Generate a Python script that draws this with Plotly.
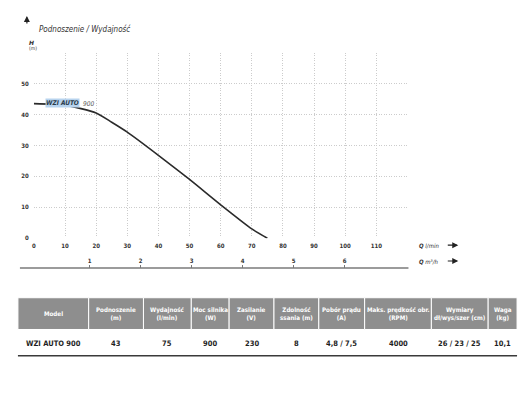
import plotly.graph_objects as go

# ---- data ----
flow_lmin = [0, 10, 20, 25, 30, 40, 50, 60, 70, 75]
head_m = [43.5, 43.0, 40.5, 37.5, 34.3, 26.8, 19.0, 10.8, 3.0, 0.0]
x_ticks = [0, 10, 20, 30, 40, 50, 60, 70, 80, 90, 100, 110, 120]
x_ticktext = ["0", "10", "20", "30", "40", "50", "60", "70", "80", "90", "100", "110", ""]
y_ticks = [0, 10, 20, 30, 40, 50, 60]
y_ticktext = ["0", "10", "20", "30", "40", "50", ""]
m3h_ticks = [1, 2, 3, 4, 5, 6]

table_headers = ["Model", "Podnoszenie<br>(m)", "Wydajność<br>(l/min)", "Moc silnika<br>(W)",
                 "Zasilanie<br>(V)", "Zdolność<br>ssania (m)", "Pobór prądu<br>(A)",
                 "Maks. prędkość obr.<br>(RPM)", "Wymiary<br>dł/wys/szer (cm)", "Waga<br>(kg)"]
table_values = ["WZI AUTO 900", "43", "75", "900", "230", "8", "4,8 / 7,5", "4000",
                "26 / 23 / 25", "10,1"]
col_widths = [71, 55, 48, 38, 45, 45, 46, 67, 57, 29]

W, H = 530, 398
def px(x): return x / W
def py(y): return 1 - y / H

NARROW = "Liberation Sans Narrow, DejaVu Sans Condensed, sans-serif"
COND = "DejaVu Sans Condensed, sans-serif"

fig = go.Figure()
fig.add_trace(go.Scatter(x=flow_lmin, y=head_m, mode="lines",
                         line=dict(color="#2b2b2b", width=1.6, shape="spline", smoothing=0.6),
                         hoverinfo="skip", showlegend=False))
fig.add_trace(go.Scatter(x=[v / 16.667 for v in flow_lmin], y=head_m, xaxis="x2", mode="lines",
                         line=dict(width=0, color="rgba(0,0,0,0)"), hoverinfo="skip", showlegend=False))

tickfont = dict(family=COND, size=6, color="#333", weight="bold")
grid = dict(showgrid=True, gridcolor="#cccccc", griddash="1px,1.5px", gridwidth=1, zeroline=False,
            showline=False, ticks="", tickfont=tickfont, fixedrange=True)

shapes = [
    dict(type="line", xref="paper", yref="paper", x0=px(16), x1=px(517),
         y0=py(358.5), y1=py(358.5), line=dict(color="#3a3a3a", width=1.5)),
    dict(type="line", xref="paper", yref="paper", x0=px(18), x1=px(408),
         y0=py(270), y1=py(270), line=dict(color="#7a7a7a", width=1.5)),
]
anns = []

# ---- table drawn from the lists ----
TBL_X0, HDR_TOP, HDR_BOT, ROW_Y = 16, 300, 332, 346
x0 = TBL_X0
for head, val, w in zip(table_headers, table_values, col_widths):
    shapes.append(dict(type="rect", xref="paper", yref="paper", x0=px(x0), x1=px(x0 + w),
                       y0=py(HDR_BOT), y1=py(HDR_TOP), fillcolor="#8e8e8e",
                       line=dict(color="white", width=1), layer="below"))
    anns.append(dict(x=px(x0 + w / 2), y=py((HDR_TOP + HDR_BOT) / 2), text=f"<b>{head}</b>",
                     xanchor="center", yanchor="middle", align="center",
                     font=dict(family=NARROW, size=6.2, color="white")))
    anns.append(dict(x=px(x0 + w / 2), y=py(ROW_Y), text=f"<b>{val}</b>",
                     xanchor="center", yanchor="middle",
                     font=dict(family=COND, size=7.5, color="#1e1e1e")))
    x0 += w

fig.update_layout(
    width=W, height=H, margin=dict(l=0, r=0, t=0, b=0),
    paper_bgcolor="white", plot_bgcolor="white",
    xaxis=dict(domain=[px(32), px(407)], range=[0, 120], tickvals=x_ticks, ticktext=x_ticktext,
               ticklabelstandoff=3, **grid),
    yaxis=dict(domain=[py(240), py(53)], range=[0, 60], tickvals=y_ticks, ticktext=y_ticktext,
               ticklabelstandoff=4, **grid),
    xaxis2=dict(range=[-0.094, 7.23], overlaying="x", anchor="free",
                position=py(270), side="top", tickvals=m3h_ticks, ticks="outside", ticklen=3,
                tickcolor="#777", showline=False,
                showgrid=False, zeroline=False, tickfont=tickfont, fixedrange=True),
    shapes=shapes,
)

anns += [
    dict(x=px(35), y=py(22), text="<i>Podnoszenie / Wydajność</i>", xanchor="left",
         font=dict(family=COND, size=8, color="#333")),
    dict(x=px(25), y=py(16), ax=0, ay=9, text="", showarrow=True, arrowhead=2,
         arrowsize=1, arrowwidth=1.2, arrowcolor="#222"),
    dict(x=px(25), y=py(37), text="<b><i>H</i></b>", font=dict(family="DejaVu Sans", size=6, color="#333")),
    dict(x=px(25), y=py(43.5), text="(m)", font=dict(family=COND, size=5, color="#333")),
    dict(x=px(78), y=py(99), text="<b><i>WZI AUTO</i></b>", xanchor="right", bgcolor="#b7d3ee",
         borderpad=0, font=dict(family=NARROW, size=6.5, color="#2a3a4a")),
    dict(x=px(79), y=py(99), text="<i>900</i>", xanchor="left",
         font=dict(family=NARROW, size=6.5, color="#555")),
    dict(x=px(417), y=py(247), text="<b><i>Q</i></b> <i>l/min</i>", xanchor="left",
         font=dict(family=COND, size=6, color="#333")),
    dict(x=px(417), y=py(263), text="<b><i>Q</i></b> <i>m³/h</i>", xanchor="left",
         font=dict(family=COND, size=6, color="#333")),
    dict(x=px(458), y=py(247), ax=-12, ay=0, text="", showarrow=True, arrowhead=2,
         arrowsize=1, arrowwidth=1.2, arrowcolor="#222"),
    dict(x=px(458), y=py(263), ax=-12, ay=0, text="", showarrow=True, arrowhead=2,
         arrowsize=1, arrowwidth=1.2, arrowcolor="#222"),
]
for a in anns:
    a.setdefault("xref", "paper")
    a.setdefault("yref", "paper")
    a.setdefault("showarrow", False)
fig.update_layout(annotations=anns)

fig.write_html("out.html", config={"displayModeBar": False},
               post_script="document.body.style.margin='0';document.body.style.overflow='hidden';")
